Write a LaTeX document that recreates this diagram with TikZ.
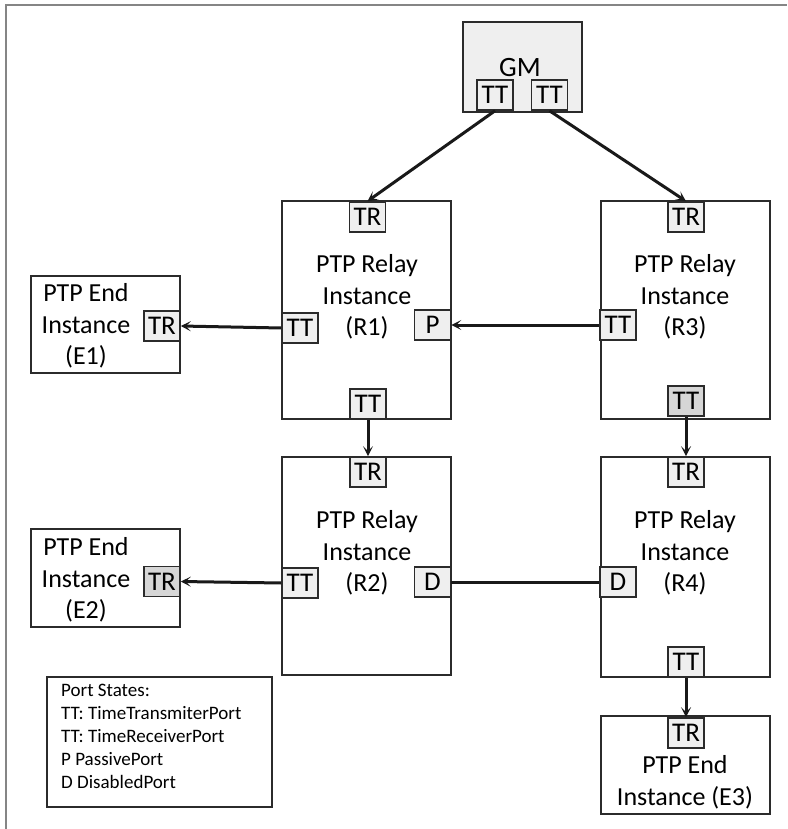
\documentclass[tikz,border=0pt]{standalone}
\usepackage{fontspec}
\setmainfont{Carlito}
\usetikzlibrary{arrows.meta}
\definecolor{boxline}{HTML}{2B2B2B}
\definecolor{portfill}{HTML}{EFEFEF}
\definecolor{portdark}{HTML}{D6D6D6}
\definecolor{framegray}{HTML}{858585}
\tikzset{
  inst/.style={draw=boxline, line width=1.6pt, inner sep=0pt},
  port/.style={draw=boxline, line width=1.6pt, fill=portfill, minimum width=36pt, minimum height=30pt, inner sep=0pt, font=\fontsize{27}{27}\selectfont},
  portd/.style={port, fill=portdark},
  lbl/.style={align=center, font=\fontsize{26}{31.5}\selectfont, inner sep=0pt},
  conn/.style={draw=black!90, line width=3pt},
  arr/.style={conn, -{Stealth[length=10pt, width=10pt, inset=5pt]}},
}
\begin{document}
\begin{tikzpicture}[x=1pt, y=-1pt]
\useasboundingbox (0,0) rectangle (787,829);
% frame
\draw[framegray, line width=2.5pt] (6,829) -- (6,5) -- (787,5);
% GM
\node[inst, fill=portfill, minimum width=119pt, minimum height=90pt] (gm) at (522.5,67) {};
\node[lbl, font=\fontsize{28}{28}\selectfont] (gmt) at (520,68) {GM};
\node[port] (gmtt1) at (495,95) {TT};
\node[port] (gmtt2) at (549.5,95) {TT};
% R1
\node[inst, minimum width=169pt, minimum height=218pt] (r1) at (366.5,310) {};
\node[lbl] (r1t) at (367,297) {PTP Relay\\Instance\\(R1)};
\node[port] (r1tr) at (367.5,217) {TR};
\node[port] (r1tt) at (300,328) {TT};
\node[port] (r1p) at (432.5,325) {P};
\node[port] (r1ttb) at (368,404) {TT};
% R3
\node[inst, minimum width=169pt, minimum height=218pt] (r3) at (685.5,310) {};
\node[lbl] (r3t) at (685,297) {PTP Relay\\Instance\\(R3)};
\node[port] (r3tr) at (686,217) {TR};
\node[port] (r3tt) at (618,325) {TT};
\node[portd] (r3ttb) at (686,401) {TT};
% R2
\node[inst, minimum width=169pt, minimum height=218pt] (r2) at (366.5,566) {};
\node[lbl] (r2t) at (367,553) {PTP Relay\\Instance\\(R2)};
\node[port] (r2tr) at (368,472) {TR};
\node[port] (r2tt) at (300,583) {TT};
\node[port] (r2d) at (432.5,582) {D};
\node[port] (r4tr) at (686,472) {TR};
% R4
\node[inst, minimum width=169pt, minimum height=220pt] (r4) at (685.5,567) {};
\node[lbl] (r4t) at (685,553) {PTP Relay\\Instance\\(R4)};
\node[port] (r4d) at (618,582) {D};
\node[port] (r4ttb) at (686,662) {TT};
% E1
\node[inst, minimum width=149pt, minimum height=97pt] (e1) at (105.5,324.5) {};
\node[lbl] (e1t) at (86,326) {PTP End\\Instance\\(E1)};
\node[port] (e1tr) at (162,326) {TR};
% E2
\node[inst, minimum width=149pt, minimum height=98pt] (e2) at (105.5,578) {};
\node[lbl] (e2t) at (86,580) {PTP End\\Instance\\(E2)};
\node[portd] (e2tr) at (162,581.5) {TR};
% E3
\node[inst, minimum width=169pt, minimum height=98pt] (e3) at (685.5,765) {};
\node[port] (e3tr) at (686,733) {TR};
\node[lbl] (e3t) at (685,782.5) {PTP End\\Instance (E3)};
% legend
\node[inst, minimum width=225pt, minimum height=130pt] (leg) at (159.5,742) {};
\node[align=left, anchor=north west, inner sep=0pt, font=\fontsize{19}{23}\selectfont] (legt) at (61,684) {Port States:\\TT: TimeTransmiterPort\\TT: TimeReceiverPort\\P PassivePort\\D DisabledPort};
% connectors
\draw[arr] (gmtt1.south) -- (r1tr.north);
\draw[arr] (gmtt2.south) -- (r3tr.north);
\draw[arr] (r1tt.west) -- (e1tr.east);
\draw[arr] (r3tt.west) -- (r1p.east);
\draw[arr] (r1ttb.south) -- (r2tr.north);
\draw[arr] (r3ttb.south) -- (r4tr.north);
\draw[arr] (r2tt.west) -- (e2tr.east);
\draw[conn] (r2d.east) -- (r4d.west);
\draw[arr] (r4ttb.south) -- (e3tr.north);
\end{tikzpicture}
\end{document}
